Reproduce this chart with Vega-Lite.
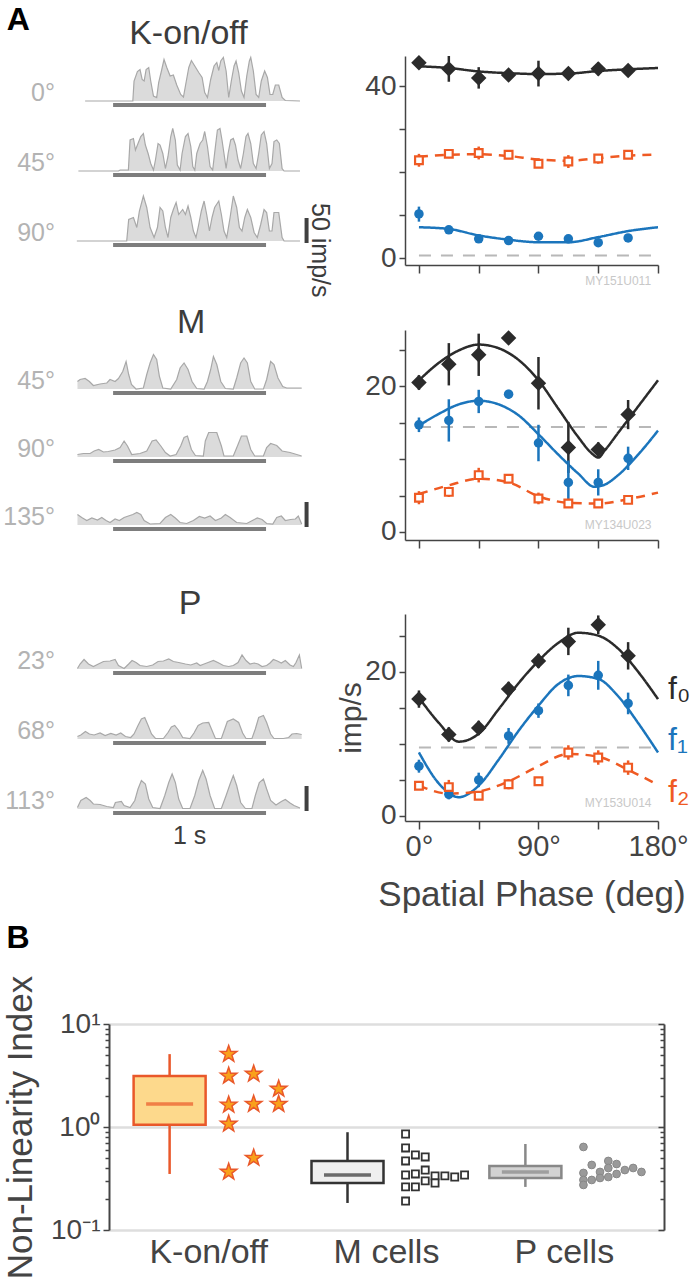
{
"$schema":"https://vega.github.io/schema/vega-lite/v6.json",
"background":"white",
"padding":{"left":-4,"top":4,"right":0,"bottom":0},
"config":{"view":{"stroke":null},"font":"Liberation Sans"},
"title":{"text":"A","anchor":"start","frame":"bounds","fontSize":32,"fontWeight":"bold","color":"#000000","offset":-20,"dx":10},
"datasets":{
"K":[
{"ph":"0°","t":-183,"r":0},{"ph":"0°","t":129,"r":0},{"ph":"0°","t":137,"r":40},{"ph":"0°","t":159,"r":59},{"ph":"0°","t":176,"r":63},{"ph":"0°","t":190,"r":43},{"ph":"0°","t":203,"r":40},{"ph":"0°","t":216,"r":63},{"ph":"0°","t":233,"r":67},{"ph":"0°","t":246,"r":40},{"ph":"0°","t":264,"r":10},{"ph":"0°","t":285,"r":7},{"ph":"0°","t":298,"r":37},{"ph":"0°","t":316,"r":60},{"ph":"0°","t":333,"r":83},{"ph":"0°","t":351,"r":67},{"ph":"0°","t":373,"r":50},{"ph":"0°","t":394,"r":52},{"ph":"0°","t":416,"r":32},{"ph":"0°","t":442,"r":13},{"ph":"0°","t":460,"r":8},{"ph":"0°","t":477,"r":37},{"ph":"0°","t":495,"r":67},{"ph":"0°","t":512,"r":81},{"ph":"0°","t":534,"r":70},{"ph":"0°","t":560,"r":57},{"ph":"0°","t":582,"r":47},{"ph":"0°","t":599,"r":17},{"ph":"0°","t":617,"r":7},{"ph":"0°","t":638,"r":43},{"ph":"0°","t":660,"r":70},{"ph":"0°","t":678,"r":77},{"ph":"0°","t":691,"r":61},{"ph":"0°","t":704,"r":80},{"ph":"0°","t":721,"r":87},{"ph":"0°","t":739,"r":60},{"ph":"0°","t":756,"r":7},{"ph":"0°","t":773,"r":40},{"ph":"0°","t":791,"r":70},{"ph":"0°","t":804,"r":80},{"ph":"0°","t":821,"r":57},{"ph":"0°","t":839,"r":20},{"ph":"0°","t":856,"r":7},{"ph":"0°","t":874,"r":50},{"ph":"0°","t":891,"r":80},{"ph":"0°","t":900,"r":87},{"ph":"0°","t":917,"r":60},{"ph":"0°","t":935,"r":13},{"ph":"0°","t":952,"r":7},{"ph":"0°","t":969,"r":40},{"ph":"0°","t":991,"r":60},{"ph":"0°","t":1009,"r":47},{"ph":"0°","t":1026,"r":13},{"ph":"0°","t":1044,"r":13},{"ph":"0°","t":1061,"r":32},{"ph":"0°","t":1083,"r":32},{"ph":"0°","t":1105,"r":7},{"ph":"0°","t":1126,"r":1},{"ph":"0°","t":1222,"r":0},
{"ph":"45°","t":-227,"r":0},{"ph":"45°","t":35,"r":0},{"ph":"45°","t":46,"r":2},{"ph":"45°","t":100,"r":2},{"ph":"45°","t":111,"r":62},{"ph":"45°","t":133,"r":65},{"ph":"45°","t":146,"r":42},{"ph":"45°","t":163,"r":55},{"ph":"45°","t":181,"r":69},{"ph":"45°","t":198,"r":75},{"ph":"45°","t":211,"r":52},{"ph":"45°","t":229,"r":35},{"ph":"45°","t":246,"r":15},{"ph":"45°","t":264,"r":2},{"ph":"45°","t":277,"r":22},{"ph":"45°","t":294,"r":55},{"ph":"45°","t":307,"r":52},{"ph":"45°","t":325,"r":35},{"ph":"45°","t":342,"r":5},{"ph":"45°","t":359,"r":29},{"ph":"45°","t":377,"r":69},{"ph":"45°","t":390,"r":85},{"ph":"45°","t":407,"r":62},{"ph":"45°","t":420,"r":12},{"ph":"45°","t":438,"r":2},{"ph":"45°","t":451,"r":35},{"ph":"45°","t":473,"r":69},{"ph":"45°","t":490,"r":75},{"ph":"45°","t":508,"r":49},{"ph":"45°","t":521,"r":9},{"ph":"45°","t":534,"r":2},{"ph":"45°","t":547,"r":35},{"ph":"45°","t":569,"r":55},{"ph":"45°","t":586,"r":62},{"ph":"45°","t":599,"r":79},{"ph":"45°","t":617,"r":49},{"ph":"45°","t":634,"r":9},{"ph":"45°","t":651,"r":2},{"ph":"45°","t":669,"r":49},{"ph":"45°","t":682,"r":82},{"ph":"45°","t":699,"r":85},{"ph":"45°","t":712,"r":62},{"ph":"45°","t":725,"r":35},{"ph":"45°","t":739,"r":5},{"ph":"45°","t":752,"r":35},{"ph":"45°","t":769,"r":62},{"ph":"45°","t":786,"r":65},{"ph":"45°","t":800,"r":52},{"ph":"45°","t":817,"r":22},{"ph":"45°","t":834,"r":5},{"ph":"45°","t":852,"r":35},{"ph":"45°","t":869,"r":69},{"ph":"45°","t":882,"r":75},{"ph":"45°","t":900,"r":55},{"ph":"45°","t":917,"r":15},{"ph":"45°","t":935,"r":5},{"ph":"45°","t":952,"r":35},{"ph":"45°","t":969,"r":72},{"ph":"45°","t":987,"r":79},{"ph":"45°","t":1004,"r":55},{"ph":"45°","t":1022,"r":5},{"ph":"45°","t":1039,"r":15},{"ph":"45°","t":1052,"r":59},{"ph":"45°","t":1070,"r":62},{"ph":"45°","t":1087,"r":55},{"ph":"45°","t":1105,"r":5},{"ph":"45°","t":1118,"r":0},{"ph":"45°","t":1222,"r":0},
{"ph":"90°","t":-237,"r":0},{"ph":"90°","t":89,"r":0},{"ph":"90°","t":102,"r":43},{"ph":"90°","t":133,"r":47},{"ph":"90°","t":155,"r":27},{"ph":"90°","t":172,"r":60},{"ph":"90°","t":198,"r":90},{"ph":"90°","t":220,"r":67},{"ph":"90°","t":242,"r":27},{"ph":"90°","t":268,"r":7},{"ph":"90°","t":290,"r":27},{"ph":"90°","t":307,"r":67},{"ph":"90°","t":325,"r":60},{"ph":"90°","t":342,"r":27},{"ph":"90°","t":359,"r":7},{"ph":"90°","t":377,"r":47},{"ph":"90°","t":394,"r":63},{"ph":"90°","t":412,"r":77},{"ph":"90°","t":429,"r":53},{"ph":"90°","t":455,"r":63},{"ph":"90°","t":473,"r":53},{"ph":"90°","t":490,"r":70},{"ph":"90°","t":508,"r":47},{"ph":"90°","t":525,"r":20},{"ph":"90°","t":542,"r":7},{"ph":"90°","t":560,"r":33},{"ph":"90°","t":577,"r":60},{"ph":"90°","t":595,"r":80},{"ph":"90°","t":612,"r":53},{"ph":"90°","t":630,"r":20},{"ph":"90°","t":647,"r":47},{"ph":"90°","t":664,"r":67},{"ph":"90°","t":691,"r":80},{"ph":"90°","t":708,"r":53},{"ph":"90°","t":725,"r":20},{"ph":"90°","t":743,"r":7},{"ph":"90°","t":765,"r":47},{"ph":"90°","t":786,"r":90},{"ph":"90°","t":808,"r":67},{"ph":"90°","t":826,"r":27},{"ph":"90°","t":843,"r":20},{"ph":"90°","t":861,"r":47},{"ph":"90°","t":878,"r":63},{"ph":"90°","t":900,"r":47},{"ph":"90°","t":922,"r":17},{"ph":"90°","t":943,"r":7},{"ph":"90°","t":965,"r":33},{"ph":"90°","t":987,"r":63},{"ph":"90°","t":1004,"r":57},{"ph":"90°","t":1022,"r":20},{"ph":"90°","t":1039,"r":20},{"ph":"90°","t":1052,"r":57},{"ph":"90°","t":1083,"r":57},{"ph":"90°","t":1105,"r":7},{"ph":"90°","t":1118,"r":0},{"ph":"90°","t":1222,"r":0},
{"ph":"0°","kind":"stim","t0":0,"t1":1000},{"ph":"45°","kind":"stim","t0":0,"t1":1000},{"ph":"90°","kind":"stim","t0":0,"t1":1000},
{"ph":"90°","kind":"scale","lo":-4,"hi":46},{"ph":"90°","kind":"label","txt":"50 imp/s"}
],
"M":[
{"ph":"45°","t":-233,"r":15},{"ph":"45°","t":-216,"r":19},{"ph":"45°","t":-183,"r":21},{"ph":"45°","t":-155,"r":15},{"ph":"45°","t":-129,"r":7},{"ph":"45°","t":-85,"r":10},{"ph":"45°","t":-41,"r":12},{"ph":"45°","t":-20,"r":19},{"ph":"45°","t":13,"r":15},{"ph":"45°","t":35,"r":21},{"ph":"45°","t":63,"r":35},{"ph":"45°","t":85,"r":55},{"ph":"45°","t":102,"r":29},{"ph":"45°","t":120,"r":9},{"ph":"45°","t":150,"r":0},{"ph":"45°","t":198,"r":2},{"ph":"45°","t":220,"r":29},{"ph":"45°","t":242,"r":52},{"ph":"45°","t":264,"r":69},{"ph":"45°","t":285,"r":59},{"ph":"45°","t":303,"r":25},{"ph":"45°","t":325,"r":2},{"ph":"45°","t":377,"r":0},{"ph":"45°","t":416,"r":19},{"ph":"45°","t":438,"r":42},{"ph":"45°","t":464,"r":52},{"ph":"45°","t":490,"r":39},{"ph":"45°","t":516,"r":15},{"ph":"45°","t":547,"r":1},{"ph":"45°","t":595,"r":0},{"ph":"45°","t":617,"r":15},{"ph":"45°","t":638,"r":39},{"ph":"45°","t":656,"r":65},{"ph":"45°","t":678,"r":49},{"ph":"45°","t":704,"r":15},{"ph":"45°","t":734,"r":1},{"ph":"45°","t":786,"r":0},{"ph":"45°","t":808,"r":22},{"ph":"45°","t":834,"r":52},{"ph":"45°","t":856,"r":62},{"ph":"45°","t":878,"r":52},{"ph":"45°","t":900,"r":15},{"ph":"45°","t":926,"r":0},{"ph":"45°","t":983,"r":0},{"ph":"45°","t":1004,"r":19},{"ph":"45°","t":1030,"r":55},{"ph":"45°","t":1052,"r":49},{"ph":"45°","t":1078,"r":22},{"ph":"45°","t":1109,"r":5},{"ph":"45°","t":1135,"r":2},{"ph":"45°","t":1233,"r":2},
{"ph":"90°","t":-233,"r":5},{"ph":"90°","t":-194,"r":7},{"ph":"90°","t":-150,"r":7},{"ph":"90°","t":-124,"r":12},{"ph":"90°","t":-94,"r":15},{"ph":"90°","t":-63,"r":10},{"ph":"90°","t":-31,"r":11},{"ph":"90°","t":13,"r":14},{"ph":"90°","t":46,"r":19},{"ph":"90°","t":72,"r":32},{"ph":"90°","t":94,"r":22},{"ph":"90°","t":122,"r":5},{"ph":"90°","t":176,"r":7},{"ph":"90°","t":220,"r":12},{"ph":"90°","t":255,"r":32},{"ph":"90°","t":281,"r":34},{"ph":"90°","t":312,"r":22},{"ph":"90°","t":342,"r":9},{"ph":"90°","t":373,"r":2},{"ph":"90°","t":412,"r":5},{"ph":"90°","t":442,"r":22},{"ph":"90°","t":464,"r":39},{"ph":"90°","t":486,"r":42},{"ph":"90°","t":512,"r":15},{"ph":"90°","t":538,"r":3},{"ph":"90°","t":590,"r":2},{"ph":"90°","t":603,"r":32},{"ph":"90°","t":625,"r":49},{"ph":"90°","t":678,"r":49},{"ph":"90°","t":708,"r":22},{"ph":"90°","t":725,"r":2},{"ph":"90°","t":786,"r":2},{"ph":"90°","t":813,"r":22},{"ph":"90°","t":839,"r":42},{"ph":"90°","t":874,"r":42},{"ph":"90°","t":900,"r":15},{"ph":"90°","t":926,"r":2},{"ph":"90°","t":983,"r":2},{"ph":"90°","t":1004,"r":19},{"ph":"90°","t":1030,"r":27},{"ph":"90°","t":1070,"r":23},{"ph":"90°","t":1105,"r":12},{"ph":"90°","t":1157,"r":9},{"ph":"90°","t":1233,"r":2},
{"ph":"135°","t":-233,"r":21},{"ph":"135°","t":-205,"r":15},{"ph":"135°","t":-172,"r":9},{"ph":"135°","t":-139,"r":14},{"ph":"135°","t":-102,"r":10},{"ph":"135°","t":-74,"r":15},{"ph":"135°","t":-46,"r":9},{"ph":"135°","t":-20,"r":5},{"ph":"135°","t":13,"r":12},{"ph":"135°","t":41,"r":9},{"ph":"135°","t":72,"r":15},{"ph":"135°","t":100,"r":18},{"ph":"135°","t":129,"r":21},{"ph":"135°","t":155,"r":25},{"ph":"135°","t":181,"r":21},{"ph":"135°","t":203,"r":9},{"ph":"135°","t":242,"r":2},{"ph":"135°","t":307,"r":3},{"ph":"135°","t":342,"r":15},{"ph":"135°","t":377,"r":21},{"ph":"135°","t":407,"r":14},{"ph":"135°","t":438,"r":5},{"ph":"135°","t":481,"r":3},{"ph":"135°","t":525,"r":9},{"ph":"135°","t":564,"r":17},{"ph":"135°","t":599,"r":14},{"ph":"135°","t":634,"r":18},{"ph":"135°","t":669,"r":9},{"ph":"135°","t":708,"r":14},{"ph":"135°","t":734,"r":21},{"ph":"135°","t":765,"r":15},{"ph":"135°","t":808,"r":5},{"ph":"135°","t":874,"r":3},{"ph":"135°","t":917,"r":10},{"ph":"135°","t":943,"r":14},{"ph":"135°","t":974,"r":11},{"ph":"135°","t":1004,"r":3},{"ph":"135°","t":1044,"r":2},{"ph":"135°","t":1070,"r":15},{"ph":"135°","t":1100,"r":18},{"ph":"135°","t":1126,"r":9},{"ph":"135°","t":1161,"r":11},{"ph":"135°","t":1192,"r":12},{"ph":"135°","t":1211,"r":18},{"ph":"135°","t":1233,"r":2},
{"ph":"45°","kind":"stim","t0":0,"t1":1000},{"ph":"90°","kind":"stim","t0":0,"t1":1000},{"ph":"135°","kind":"stim","t0":0,"t1":1000},
{"ph":"135°","kind":"scale","lo":-4,"hi":46}
],
"P":[
{"ph":"23°","t":-233,"r":1},{"ph":"23°","t":-216,"r":10},{"ph":"23°","t":-190,"r":19},{"ph":"23°","t":-161,"r":10},{"ph":"23°","t":-129,"r":5},{"ph":"23°","t":-96,"r":10},{"ph":"23°","t":-63,"r":15},{"ph":"23°","t":-20,"r":16},{"ph":"23°","t":13,"r":19},{"ph":"23°","t":35,"r":7},{"ph":"23°","t":72,"r":1},{"ph":"23°","t":102,"r":10},{"ph":"23°","t":124,"r":17},{"ph":"23°","t":150,"r":13},{"ph":"23°","t":176,"r":7},{"ph":"23°","t":220,"r":5},{"ph":"23°","t":259,"r":8},{"ph":"23°","t":294,"r":15},{"ph":"23°","t":329,"r":16},{"ph":"23°","t":364,"r":20},{"ph":"23°","t":394,"r":15},{"ph":"23°","t":429,"r":13},{"ph":"23°","t":473,"r":10},{"ph":"23°","t":508,"r":8},{"ph":"23°","t":547,"r":12},{"ph":"23°","t":569,"r":7},{"ph":"23°","t":595,"r":10},{"ph":"23°","t":621,"r":13},{"ph":"23°","t":656,"r":17},{"ph":"23°","t":691,"r":12},{"ph":"23°","t":721,"r":7},{"ph":"23°","t":756,"r":5},{"ph":"23°","t":786,"r":7},{"ph":"23°","t":817,"r":13},{"ph":"23°","t":843,"r":28},{"ph":"23°","t":869,"r":17},{"ph":"23°","t":895,"r":10},{"ph":"23°","t":922,"r":12},{"ph":"23°","t":948,"r":10},{"ph":"23°","t":974,"r":5},{"ph":"23°","t":1004,"r":7},{"ph":"23°","t":1026,"r":12},{"ph":"23°","t":1048,"r":19},{"ph":"23°","t":1074,"r":16},{"ph":"23°","t":1100,"r":12},{"ph":"23°","t":1126,"r":17},{"ph":"23°","t":1157,"r":8},{"ph":"23°","t":1179,"r":5},{"ph":"23°","t":1196,"r":13},{"ph":"23°","t":1218,"r":28},{"ph":"23°","t":1233,"r":1},
{"ph":"68°","t":-233,"r":5},{"ph":"68°","t":-211,"r":8},{"ph":"68°","t":-181,"r":15},{"ph":"68°","t":-155,"r":10},{"ph":"68°","t":-124,"r":8},{"ph":"68°","t":-85,"r":12},{"ph":"68°","t":-52,"r":7},{"ph":"68°","t":-15,"r":11},{"ph":"68°","t":20,"r":8},{"ph":"68°","t":50,"r":12},{"ph":"68°","t":81,"r":5},{"ph":"68°","t":115,"r":3},{"ph":"68°","t":137,"r":10},{"ph":"68°","t":163,"r":27},{"ph":"68°","t":185,"r":40},{"ph":"68°","t":207,"r":43},{"ph":"68°","t":229,"r":27},{"ph":"68°","t":251,"r":10},{"ph":"68°","t":277,"r":1},{"ph":"68°","t":329,"r":1},{"ph":"68°","t":359,"r":13},{"ph":"68°","t":381,"r":24},{"ph":"68°","t":403,"r":27},{"ph":"68°","t":429,"r":17},{"ph":"68°","t":455,"r":3},{"ph":"68°","t":503,"r":1},{"ph":"68°","t":529,"r":12},{"ph":"68°","t":556,"r":27},{"ph":"68°","t":586,"r":32},{"ph":"68°","t":625,"r":33},{"ph":"68°","t":643,"r":20},{"ph":"68°","t":669,"r":1},{"ph":"68°","t":708,"r":1},{"ph":"68°","t":730,"r":20},{"ph":"68°","t":747,"r":35},{"ph":"68°","t":786,"r":40},{"ph":"68°","t":821,"r":33},{"ph":"68°","t":847,"r":12},{"ph":"68°","t":869,"r":1},{"ph":"68°","t":908,"r":1},{"ph":"68°","t":930,"r":20},{"ph":"68°","t":952,"r":43},{"ph":"68°","t":983,"r":47},{"ph":"68°","t":1004,"r":33},{"ph":"68°","t":1030,"r":10},{"ph":"68°","t":1052,"r":1},{"ph":"68°","t":1113,"r":1},{"ph":"68°","t":1148,"r":3},{"ph":"68°","t":1170,"r":10},{"ph":"68°","t":1200,"r":11},{"ph":"68°","t":1233,"r":9},
{"ph":"113°","t":-233,"r":3},{"ph":"113°","t":-211,"r":17},{"ph":"113°","t":-176,"r":23},{"ph":"113°","t":-150,"r":17},{"ph":"113°","t":-129,"r":10},{"ph":"113°","t":-85,"r":9},{"ph":"113°","t":-41,"r":5},{"ph":"113°","t":2,"r":3},{"ph":"113°","t":15,"r":13},{"ph":"113°","t":54,"r":15},{"ph":"113°","t":72,"r":7},{"ph":"113°","t":111,"r":3},{"ph":"113°","t":142,"r":17},{"ph":"113°","t":163,"r":40},{"ph":"113°","t":185,"r":57},{"ph":"113°","t":211,"r":50},{"ph":"113°","t":233,"r":20},{"ph":"113°","t":259,"r":3},{"ph":"113°","t":307,"r":1},{"ph":"113°","t":338,"r":27},{"ph":"113°","t":364,"r":53},{"ph":"113°","t":386,"r":70},{"ph":"113°","t":407,"r":53},{"ph":"113°","t":429,"r":20},{"ph":"113°","t":455,"r":1},{"ph":"113°","t":503,"r":1},{"ph":"113°","t":534,"r":27},{"ph":"113°","t":560,"r":57},{"ph":"113°","t":586,"r":77},{"ph":"113°","t":608,"r":60},{"ph":"113°","t":634,"r":27},{"ph":"113°","t":664,"r":1},{"ph":"113°","t":708,"r":1},{"ph":"113°","t":739,"r":27},{"ph":"113°","t":765,"r":50},{"ph":"113°","t":786,"r":67},{"ph":"113°","t":808,"r":47},{"ph":"113°","t":834,"r":13},{"ph":"113°","t":865,"r":1},{"ph":"113°","t":908,"r":1},{"ph":"113°","t":930,"r":27},{"ph":"113°","t":956,"r":53},{"ph":"113°","t":983,"r":60},{"ph":"113°","t":1004,"r":40},{"ph":"113°","t":1030,"r":17},{"ph":"113°","t":1065,"r":8},{"ph":"113°","t":1100,"r":15},{"ph":"113°","t":1126,"r":19},{"ph":"113°","t":1157,"r":12},{"ph":"113°","t":1183,"r":7},{"ph":"113°","t":1222,"r":2},
{"ph":"23°","kind":"stim","t0":0,"t1":1000},{"ph":"68°","kind":"stim","t0":0,"t1":1000},{"ph":"113°","kind":"stim","t0":0,"t1":1000},
{"ph":"113°","kind":"scale","lo":-4,"hi":46},{"ph":"113°","kind":"label","txt":"1 s"}
],
"tune":[
{"cell":"K","h":"f0","x":0,"m":45.5,"lo":44.5,"hi":46.5},{"cell":"K","h":"f0","x":22.5,"m":44.1,"lo":41.1,"hi":47.1},{"cell":"K","h":"f0","x":45,"m":42.0,"lo":39.5,"hi":44.5},{"cell":"K","h":"f0","x":67.5,"m":42.7,"lo":41.5,"hi":43.9},{"cell":"K","h":"f0","x":90,"m":43.0,"lo":40.0,"hi":46.0},{"cell":"K","h":"f0","x":112.5,"m":43.0,"lo":41.8,"hi":44.2},{"cell":"K","h":"f0","x":135,"m":44.1,"lo":42.6,"hi":45.6},{"cell":"K","h":"f0","x":157.5,"m":43.7,"lo":42.5,"hi":44.9},
{"cell":"K","h":"f1","x":0,"m":10.3,"lo":8.5,"hi":12.0},{"cell":"K","h":"f1","x":22.5,"m":6.6,"lo":6.0,"hi":7.2},{"cell":"K","h":"f1","x":45,"m":4.5,"lo":4.0,"hi":5.0},{"cell":"K","h":"f1","x":67.5,"m":4.1,"lo":3.6,"hi":4.6},{"cell":"K","h":"f1","x":90,"m":5.1,"lo":4.6,"hi":5.6},{"cell":"K","h":"f1","x":112.5,"m":4.5,"lo":3.5,"hi":5.3},{"cell":"K","h":"f1","x":135,"m":3.6,"lo":3.1,"hi":4.1},{"cell":"K","h":"f1","x":157.5,"m":4.7,"lo":4.2,"hi":5.2},
{"cell":"K","h":"f2","x":0,"m":22.8,"lo":21.3,"hi":24.3},{"cell":"K","h":"f2","x":22.5,"m":24.3,"lo":23.3,"hi":25.3},{"cell":"K","h":"f2","x":45,"m":24.5,"lo":23.0,"hi":26.0},{"cell":"K","h":"f2","x":67.5,"m":24.1,"lo":23.4,"hi":24.8},{"cell":"K","h":"f2","x":90,"m":22.0,"lo":21.0,"hi":23.2},{"cell":"K","h":"f2","x":112.5,"m":22.5,"lo":21.0,"hi":24.0},{"cell":"K","h":"f2","x":135,"m":23.2,"lo":22.0,"hi":24.2},{"cell":"K","h":"f2","x":157.5,"m":24.1,"lo":23.2,"hi":25.0},
{"cell":"M","h":"f0","x":0,"m":20.5,"lo":19.5,"hi":21.5},{"cell":"M","h":"f0","x":22.5,"m":23.0,"lo":20.1,"hi":25.9},{"cell":"M","h":"f0","x":45,"m":24.3,"lo":21.4,"hi":27.2},{"cell":"M","h":"f0","x":67.5,"m":26.6,"lo":25.8,"hi":27.4},{"cell":"M","h":"f0","x":90,"m":20.4,"lo":16.8,"hi":24.0},{"cell":"M","h":"f0","x":112.5,"m":11.6,"lo":8.1,"hi":15.1},{"cell":"M","h":"f0","x":135,"m":11.3,"lo":10.3,"hi":12.3},{"cell":"M","h":"f0","x":157.5,"m":16.1,"lo":14.1,"hi":18.1},
{"cell":"M","h":"f1","x":0,"m":14.7,"lo":13.7,"hi":15.7},{"cell":"M","h":"f1","x":22.5,"m":15.3,"lo":12.4,"hi":18.2},{"cell":"M","h":"f1","x":45,"m":17.9,"lo":16.3,"hi":19.5},{"cell":"M","h":"f1","x":67.5,"m":18.9,"lo":18.3,"hi":19.5},{"cell":"M","h":"f1","x":90,"m":12.2,"lo":9.7,"hi":14.7},{"cell":"M","h":"f1","x":112.5,"m":6.8,"lo":3.8,"hi":9.8},{"cell":"M","h":"f1","x":135,"m":6.8,"lo":5.0,"hi":8.6},{"cell":"M","h":"f1","x":157.5,"m":10.1,"lo":8.5,"hi":11.7},
{"cell":"M","h":"f2","x":0,"m":4.7,"lo":3.8,"hi":5.6},{"cell":"M","h":"f2","x":22.5,"m":5.5,"lo":4.8,"hi":6.2},{"cell":"M","h":"f2","x":45,"m":7.8,"lo":6.8,"hi":8.8},{"cell":"M","h":"f2","x":67.5,"m":7.3,"lo":6.8,"hi":7.8},{"cell":"M","h":"f2","x":90,"m":4.6,"lo":3.8,"hi":5.4},{"cell":"M","h":"f2","x":112.5,"m":3.9,"lo":3.3,"hi":4.5},{"cell":"M","h":"f2","x":135,"m":3.9,"lo":3.5,"hi":4.3},{"cell":"M","h":"f2","x":157.5,"m":4.4,"lo":4.0,"hi":4.8},
{"cell":"P","h":"f0","x":0,"m":16.2,"lo":15.0,"hi":17.4},{"cell":"P","h":"f0","x":22.5,"m":11.3,"lo":10.3,"hi":12.3},{"cell":"P","h":"f0","x":45,"m":12.2,"lo":11.2,"hi":13.2},{"cell":"P","h":"f0","x":67.5,"m":17.6,"lo":16.6,"hi":18.6},{"cell":"P","h":"f0","x":90,"m":21.5,"lo":20.5,"hi":22.5},{"cell":"P","h":"f0","x":112.5,"m":24.2,"lo":22.3,"hi":26.1},{"cell":"P","h":"f0","x":135,"m":26.5,"lo":25.2,"hi":27.8},{"cell":"P","h":"f0","x":157.5,"m":22.2,"lo":20.3,"hi":24.1},
{"cell":"P","h":"f1","x":0,"m":6.9,"lo":6.0,"hi":7.8},{"cell":"P","h":"f1","x":22.5,"m":3.0,"lo":2.3,"hi":3.7},{"cell":"P","h":"f1","x":45,"m":5.0,"lo":4.0,"hi":6.0},{"cell":"P","h":"f1","x":67.5,"m":11.1,"lo":10.0,"hi":12.2},{"cell":"P","h":"f1","x":90,"m":14.6,"lo":13.6,"hi":15.6},{"cell":"P","h":"f1","x":112.5,"m":18.1,"lo":16.6,"hi":19.6},{"cell":"P","h":"f1","x":135,"m":19.5,"lo":17.5,"hi":21.5},{"cell":"P","h":"f1","x":157.5,"m":15.6,"lo":14.1,"hi":17.1},
{"cell":"P","h":"f2","x":0,"m":4.2,"lo":3.7,"hi":4.7},{"cell":"P","h":"f2","x":22.5,"m":4.0,"lo":3.0,"hi":5.0},{"cell":"P","h":"f2","x":45,"m":2.8,"lo":2.3,"hi":3.3},{"cell":"P","h":"f2","x":67.5,"m":4.4,"lo":3.7,"hi":5.1},{"cell":"P","h":"f2","x":90,"m":4.8,"lo":4.3,"hi":5.3},{"cell":"P","h":"f2","x":112.5,"m":8.8,"lo":7.8,"hi":9.8},{"cell":"P","h":"f2","x":135,"m":8.1,"lo":7.1,"hi":9.1},{"cell":"P","h":"f2","x":157.5,"m":6.7,"lo":5.7,"hi":7.7}
],
"fit":[
{"cell":"K","h":"f0","x":0,"y":44.7},{"cell":"K","h":"f0","x":22.5,"y":44.3},{"cell":"K","h":"f0","x":45,"y":43.5},{"cell":"K","h":"f0","x":67.5,"y":43.1},{"cell":"K","h":"f0","x":90,"y":42.9},{"cell":"K","h":"f0","x":112.5,"y":43.0},{"cell":"K","h":"f0","x":135,"y":43.6},{"cell":"K","h":"f0","x":157.5,"y":44.0},{"cell":"K","h":"f0","x":180,"y":44.3},
{"cell":"K","h":"f1","x":0,"y":7.2},{"cell":"K","h":"f1","x":22.5,"y":6.8},{"cell":"K","h":"f1","x":45,"y":5.3},{"cell":"K","h":"f1","x":67.5,"y":4.3},{"cell":"K","h":"f1","x":90,"y":3.7},{"cell":"K","h":"f1","x":112.5,"y":3.7},{"cell":"K","h":"f1","x":135,"y":4.9},{"cell":"K","h":"f1","x":157.5,"y":6.3},{"cell":"K","h":"f1","x":180,"y":7.2},
{"cell":"K","h":"f2","x":0,"y":23.6},{"cell":"K","h":"f2","x":22.5,"y":24.1},{"cell":"K","h":"f2","x":45,"y":24.2},{"cell":"K","h":"f2","x":67.5,"y":23.8},{"cell":"K","h":"f2","x":90,"y":23.0},{"cell":"K","h":"f2","x":112.5,"y":22.7},{"cell":"K","h":"f2","x":135,"y":23.3},{"cell":"K","h":"f2","x":157.5,"y":23.9},{"cell":"K","h":"f2","x":180,"y":24.1},
{"cell":"M","h":"f0","x":0,"y":20.8},{"cell":"M","h":"f0","x":15,"y":23.2},{"cell":"M","h":"f0","x":30,"y":24.9},{"cell":"M","h":"f0","x":45,"y":25.7},{"cell":"M","h":"f0","x":60,"y":25.2},{"cell":"M","h":"f0","x":75,"y":23.6},{"cell":"M","h":"f0","x":90,"y":20.8},{"cell":"M","h":"f0","x":105,"y":16.9},{"cell":"M","h":"f0","x":120,"y":13.0},{"cell":"M","h":"f0","x":130,"y":10.8},{"cell":"M","h":"f0","x":135,"y":10.2},{"cell":"M","h":"f0","x":140,"y":11.2},{"cell":"M","h":"f0","x":150,"y":13.6},{"cell":"M","h":"f0","x":165,"y":17.2},{"cell":"M","h":"f0","x":180,"y":20.8},
{"cell":"M","h":"f1","x":0,"y":14.6},{"cell":"M","h":"f1","x":15,"y":16.2},{"cell":"M","h":"f1","x":30,"y":17.5},{"cell":"M","h":"f1","x":45,"y":18.0},{"cell":"M","h":"f1","x":60,"y":17.5},{"cell":"M","h":"f1","x":75,"y":16.0},{"cell":"M","h":"f1","x":90,"y":13.4},{"cell":"M","h":"f1","x":105,"y":10.6},{"cell":"M","h":"f1","x":120,"y":8.0},{"cell":"M","h":"f1","x":132,"y":6.2},{"cell":"M","h":"f1","x":140,"y":6.5},{"cell":"M","h":"f1","x":150,"y":7.8},{"cell":"M","h":"f1","x":165,"y":10.6},{"cell":"M","h":"f1","x":180,"y":13.9},
{"cell":"M","h":"f2","x":0,"y":5.2},{"cell":"M","h":"f2","x":22.5,"y":6.4},{"cell":"M","h":"f2","x":45,"y":7.3},{"cell":"M","h":"f2","x":67.5,"y":6.8},{"cell":"M","h":"f2","x":90,"y":4.9},{"cell":"M","h":"f2","x":112.5,"y":4.0},{"cell":"M","h":"f2","x":135,"y":3.9},{"cell":"M","h":"f2","x":157.5,"y":4.5},{"cell":"M","h":"f2","x":180,"y":5.4},
{"cell":"P","h":"f0","x":0,"y":16.4},{"cell":"P","h":"f0","x":15,"y":12.9},{"cell":"P","h":"f0","x":30,"y":10.3},{"cell":"P","h":"f0","x":45,"y":11.4},{"cell":"P","h":"f0","x":60,"y":14.8},{"cell":"P","h":"f0","x":75,"y":18.4},{"cell":"P","h":"f0","x":90,"y":21.5},{"cell":"P","h":"f0","x":105,"y":24.0},{"cell":"P","h":"f0","x":120,"y":25.4},{"cell":"P","h":"f0","x":135,"y":25.0},{"cell":"P","h":"f0","x":150,"y":23.2},{"cell":"P","h":"f0","x":165,"y":20.0},{"cell":"P","h":"f0","x":180,"y":16.2},
{"cell":"P","h":"f1","x":0,"y":8.8},{"cell":"P","h":"f1","x":15,"y":4.5},{"cell":"P","h":"f1","x":30,"y":2.6},{"cell":"P","h":"f1","x":45,"y":4.2},{"cell":"P","h":"f1","x":60,"y":7.8},{"cell":"P","h":"f1","x":75,"y":11.8},{"cell":"P","h":"f1","x":90,"y":15.3},{"cell":"P","h":"f1","x":105,"y":18.3},{"cell":"P","h":"f1","x":120,"y":19.4},{"cell":"P","h":"f1","x":135,"y":19.0},{"cell":"P","h":"f1","x":150,"y":16.6},{"cell":"P","h":"f1","x":165,"y":12.9},{"cell":"P","h":"f1","x":180,"y":8.8},
{"cell":"P","h":"f2","x":0,"y":4.2},{"cell":"P","h":"f2","x":22.5,"y":3.1},{"cell":"P","h":"f2","x":45,"y":3.4},{"cell":"P","h":"f2","x":67.5,"y":4.8},{"cell":"P","h":"f2","x":90,"y":6.9},{"cell":"P","h":"f2","x":112.5,"y":8.6},{"cell":"P","h":"f2","x":135,"y":8.2},{"cell":"P","h":"f2","x":157.5,"y":6.4},{"cell":"P","h":"f2","x":180,"y":4.3}
],
"spont":[{"cell":"K","v":0.6,"id":"MY151U011"},{"cell":"M","v":14.4,"id":"MY134U023"},{"cell":"P","v":9.5,"id":"MY153U014"}],
"box":[{"grp":"K-on/off","lo":0.35,"q1":1.05,"med":1.67,"q3":3.13,"hi":5.1},{"grp":"M cells","lo":0.183,"q1":0.286,"med":0.342,"q3":0.468,"hi":0.89},{"grp":"P cells","lo":0.262,"q1":0.32,"med":0.366,"q3":0.418,"hi":0.684}],
"pts":[
{"grp":"K-on/off","slot":0,"v":5.1},{"grp":"K-on/off","slot":0,"v":3.13},{"grp":"K-on/off","slot":0,"v":1.64},{"grp":"K-on/off","slot":0,"v":1.07},{"grp":"K-on/off","slot":0,"v":0.366},{"grp":"K-on/off","slot":1,"v":3.27},{"grp":"K-on/off","slot":1,"v":1.67},{"grp":"K-on/off","slot":1,"v":0.5},{"grp":"K-on/off","slot":2,"v":2.34},{"grp":"K-on/off","slot":2,"v":1.67},
{"grp":"M cells","slot":0,"v":0.855},{"grp":"M cells","slot":0,"v":0.626},{"grp":"M cells","slot":0,"v":0.468},{"grp":"M cells","slot":0,"v":0.342},{"grp":"M cells","slot":0,"v":0.262},{"grp":"M cells","slot":0,"v":0.191},{"grp":"M cells","slot":1,"v":0.535},{"grp":"M cells","slot":1,"v":0.35},{"grp":"M cells","slot":1,"v":0.262},{"grp":"M cells","slot":2,"v":0.512},{"grp":"M cells","slot":2,"v":0.382},{"grp":"M cells","slot":2,"v":0.3},{"grp":"M cells","slot":3,"v":0.335},{"grp":"M cells","slot":3,"v":0.286},{"grp":"M cells","slot":4,"v":0.335},{"grp":"M cells","slot":5,"v":0.327},{"grp":"M cells","slot":6,"v":0.342},
{"grp":"P cells","slot":0,"v":0.64},{"grp":"P cells","slot":0,"v":0.358},{"grp":"P cells","slot":0,"v":0.306},{"grp":"P cells","slot":0,"v":0.274},{"grp":"P cells","slot":1,"v":0.428},{"grp":"P cells","slot":1,"v":0.306},{"grp":"P cells","slot":2,"v":0.366},{"grp":"P cells","slot":2,"v":0.32},{"grp":"P cells","slot":3,"v":0.468},{"grp":"P cells","slot":3,"v":0.4},{"grp":"P cells","slot":3,"v":0.327},{"grp":"P cells","slot":4,"v":0.437},{"grp":"P cells","slot":4,"v":0.35},{"grp":"P cells","slot":5,"v":0.382},{"grp":"P cells","slot":6,"v":0.4},{"grp":"P cells","slot":7,"v":0.366}
]
},
"resolve":{"scale":{"color":"independent","fill":"independent","stroke":"independent","strokeDash":"independent"}},
"concat":[
{"width":1,"height":1,"data":{"values":[{"a":0}]},"mark":{"type":"point","opacity":0},"encoding":{}},
{"hconcat":[
 {"vconcat":[
  {"data":{"name":"K"},
   "title":{"text":"K-on/off","fontSize":34,"fontWeight":"normal","color":"#3c3c3c","offset":4,"anchor":"middle","dx":14},
   "facet":{"row":{"field":"ph","type":"nominal","sort":["0°","45°","90°"],"header":{"title":null,"labels":false}}},
   "bounds":"flush",
   "spacing":{"row":20},
   "spec":{"width":234,"height":50,"layer":[
    {"transform":[{"filter":"isValid(datum.r)"}],"mark":{"type":"area","color":"#cccccc","interpolate":"linear","line":{"color":"#a8a8a8","strokeWidth":1.2}},
     "encoding":{"x":{"field":"t","type":"quantitative","scale":{"domain":[-236,1294],"nice":false,"zero":false},"axis":null},"y":{"field":"r","type":"quantitative","scale":{"domain":[-10,90],"nice":false,"zero":false},"axis":null},"y2":{"datum":0}}},
    {"transform":[{"filter":{"field":"kind","equal":"stim"}}],"mark":{"type":"rule","color":"#7d7d7d","strokeWidth":4},"encoding":{"x":{"field":"t0","type":"quantitative"},"x2":{"field":"t1"},"y":{"datum":-8}}},
    {"transform":[{"filter":{"field":"kind","equal":"stim"}}],"mark":{"type":"text","align":"right","baseline":"middle","dx":-22,"fontSize":25,"color":"#b3b3b3"},"encoding":{"x":{"datum":-236},"y":{"datum":16},"text":{"field":"ph"}}},
    {"transform":[{"filter":{"field":"kind","equal":"scale"}}],"mark":{"type":"rule","color":"#404040","strokeWidth":4},"encoding":{"x":{"datum":1265},"y":{"field":"lo","type":"quantitative"},"y2":{"field":"hi"}}},
    {"transform":[{"filter":{"field":"kind","equal":"label"}}],"mark":{"type":"text","angle":90,"align":"left","baseline":"middle","dy":-13,"fontSize":25,"color":"#3c3c3c"},"encoding":{"x":{"datum":1265},"y":{"datum":76},"text":{"field":"txt"}}}
   ]}},
  {"vconcat":[
   {"data":{"name":"M"},
    "title":{"text":"M","fontSize":34,"fontWeight":"normal","color":"#3c3c3c","offset":4,"anchor":"middle","dx":34},
    "facet":{"row":{"field":"ph","type":"nominal","sort":["45°","90°","135°"],"header":{"title":null,"labels":false}}},
    "bounds":"flush",
    "spacing":{"row":18},
    "spec":{"width":234,"height":50,"layer":[
     {"transform":[{"filter":"isValid(datum.r)"}],"mark":{"type":"area","color":"#cccccc","interpolate":"linear","line":{"color":"#a8a8a8","strokeWidth":1.2}},
      "encoding":{"x":{"field":"t","type":"quantitative","scale":{"domain":[-236,1294],"nice":false,"zero":false},"axis":null},"y":{"field":"r","type":"quantitative","scale":{"domain":[-10,90],"nice":false,"zero":false},"axis":null},"y2":{"datum":0}}},
     {"transform":[{"filter":{"field":"kind","equal":"stim"}}],"mark":{"type":"rule","color":"#7d7d7d","strokeWidth":4},"encoding":{"x":{"field":"t0","type":"quantitative"},"x2":{"field":"t1"},"y":{"datum":-8}}},
     {"transform":[{"filter":{"field":"kind","equal":"stim"}}],"mark":{"type":"text","align":"right","baseline":"middle","dx":-22,"fontSize":25,"color":"#b3b3b3"},"encoding":{"x":{"datum":-236},"y":{"datum":16},"text":{"field":"ph"}}},
     {"transform":[{"filter":{"field":"kind","equal":"scale"}}],"mark":{"type":"rule","color":"#404040","strokeWidth":4},"encoding":{"x":{"datum":1265},"y":{"field":"lo","type":"quantitative"},"y2":{"field":"hi"}}}
    ]}},
   {"data":{"name":"P"},
    "title":{"text":"P","fontSize":34,"fontWeight":"normal","color":"#3c3c3c","offset":3,"anchor":"middle","dx":32},
    "facet":{"row":{"field":"ph","type":"nominal","sort":["23°","68°","113°"],"header":{"title":null,"labels":false}}},
    "bounds":"flush",
    "spacing":{"row":20},
    "spec":{"width":234,"height":50,"layer":[
     {"transform":[{"filter":"isValid(datum.r)"}],"mark":{"type":"area","color":"#cccccc","interpolate":"linear","line":{"color":"#a8a8a8","strokeWidth":1.2}},
      "encoding":{"x":{"field":"t","type":"quantitative","scale":{"domain":[-236,1294],"nice":false,"zero":false},"axis":null},"y":{"field":"r","type":"quantitative","scale":{"domain":[-10,90],"nice":false,"zero":false},"axis":null},"y2":{"datum":0}}},
     {"transform":[{"filter":{"field":"kind","equal":"stim"}}],"mark":{"type":"rule","color":"#7d7d7d","strokeWidth":4},"encoding":{"x":{"field":"t0","type":"quantitative"},"x2":{"field":"t1"},"y":{"datum":-8}}},
     {"transform":[{"filter":{"field":"kind","equal":"stim"}}],"mark":{"type":"text","align":"right","baseline":"middle","dx":-22,"fontSize":25,"color":"#b3b3b3"},"encoding":{"x":{"datum":-236},"y":{"datum":16},"text":{"field":"ph"}}},
     {"transform":[{"filter":{"field":"kind","equal":"scale"}}],"mark":{"type":"rule","color":"#404040","strokeWidth":4},"encoding":{"x":{"datum":1265},"y":{"field":"lo","type":"quantitative"},"y2":{"field":"hi"}}},
     {"transform":[{"filter":{"field":"kind","equal":"label"}}],"mark":{"type":"text","align":"center","baseline":"middle","dy":23,"fontSize":25,"color":"#3c3c3c"},"encoding":{"x":{"datum":500},"y":{"datum":-8},"text":{"field":"txt"}}}
    ]}}
  ],"spacing":56}
 ],"spacing":8},
 {"vconcat":[
  {"width":253,"height":209,
   "layer":[
    {"data":{"name":"spont"},"transform":[{"filter":{"field":"cell","equal":"K"}}],"mark":{"type":"rule","color":"#b8b8b8","strokeWidth":2,"strokeDash":[12,10]},"encoding":{"x":{"datum":0},"x2":{"datum":178},"y":{"field":"v","type":"quantitative"}}},
    {"data":{"name":"fit"},"transform":[{"filter":{"field":"cell","equal":"K"}}],"mark":{"type":"line","strokeWidth":2.5,"interpolate":"monotone"},
     "encoding":{"x":{"field":"x","type":"quantitative","scale":{"domain":[-10.5,180],"nice":false,"zero":false},"axis":{"values":[0,45,90,135,180],"labels":false,"tickSize":8,"tickWidth":1.5,"tickColor":"#444444","domainColor":"#444444","domainWidth":1.5,"grid":false,"title":null}},
      "y":{"field":"y","type":"quantitative","scale":{"domain":[-1.6,47.1],"nice":false,"zero":false},"axis":{"values":[0,5,10,15,20,25,30,35,40,45],"labelExpr":"datum.value==0||datum.value==40?datum.label:''","labelOverlap":false,"tickSize":6,"tickWidth":1.5,"tickColor":"#444444","domainColor":"#444444","domainWidth":1.5,"labelFontSize":28,"labelColor":"#444444","labelPadding":3,"grid":false,"title":" ","titleFontSize":30,"titlePadding":-2}},
      "color":{"field":"h","type":"nominal","scale":{"domain":["f0","f1","f2"],"range":["#2b2b2b","#1b75bc","#ef5a23"]},"legend":null},
      "strokeDash":{"field":"h","type":"nominal","scale":{"domain":["f0","f1","f2"],"range":[[1,0],[1,0],[9,7]]},"legend":null}}},
    {"data":{"name":"tune"},"transform":[{"filter":{"field":"cell","equal":"K"}}],"mark":{"type":"rule","strokeWidth":2.5},"encoding":{"x":{"field":"x","type":"quantitative"},"y":{"field":"lo","type":"quantitative"},"y2":{"field":"hi"},"color":{"field":"h","type":"nominal","legend":null}}},
    {"data":{"name":"tune"},"transform":[{"filter":"datum.cell=='K'&&datum.h=='f0'"}],"mark":{"type":"point","shape":"diamond","filled":true,"size":240,"color":"#2b2b2b","opacity":1},"encoding":{"x":{"field":"x","type":"quantitative"},"y":{"field":"m","type":"quantitative"}}},
    {"data":{"name":"tune"},"transform":[{"filter":"datum.cell=='K'&&datum.h=='f1'"}],"mark":{"type":"point","shape":"circle","filled":true,"size":90,"color":"#1b75bc","opacity":1},"encoding":{"x":{"field":"x","type":"quantitative"},"y":{"field":"m","type":"quantitative"}}},
    {"data":{"name":"tune"},"transform":[{"filter":"datum.cell=='K'&&datum.h=='f2'"}],"mark":{"type":"point","shape":"square","filled":true,"fill":"#ffffff","stroke":"#ef5a23","strokeWidth":2.2,"size":60,"opacity":1},"encoding":{"x":{"field":"x","type":"quantitative"},"y":{"field":"m","type":"quantitative"}}},
    {"data":{"name":"spont"},"transform":[{"filter":{"field":"cell","equal":"K"}}],"mark":{"type":"text","fontSize":12,"color":"#c8c8c8","align":"center","baseline":"middle"},"encoding":{"x":{"datum":150},"y":{"datum":-5.4},"text":{"field":"id"}}}
   ]},
  {"vconcat":[
   {"width":253,"height":210,
    "layer":[
     {"data":{"name":"spont"},"transform":[{"filter":{"field":"cell","equal":"M"}}],"mark":{"type":"rule","color":"#b8b8b8","strokeWidth":2,"strokeDash":[12,10]},"encoding":{"x":{"datum":0},"x2":{"datum":178},"y":{"field":"v","type":"quantitative"}}},
     {"data":{"name":"fit"},"transform":[{"filter":{"field":"cell","equal":"M"}}],"mark":{"type":"line","strokeWidth":2.5,"interpolate":"monotone"},
      "encoding":{"x":{"field":"x","type":"quantitative","scale":{"domain":[-10.5,180],"nice":false,"zero":false},"axis":{"values":[0,45,90,135,180],"labels":false,"tickSize":8,"tickWidth":1.5,"tickColor":"#444444","domainColor":"#444444","domainWidth":1.5,"grid":false,"title":null}},
       "y":{"field":"y","type":"quantitative","scale":{"domain":[-1.1,27.7],"nice":false,"zero":false},"axis":{"values":[0,5,10,15,20,25],"labelExpr":"datum.value==0||datum.value==20?datum.label:''","labelOverlap":false,"tickSize":6,"tickWidth":1.5,"tickColor":"#444444","domainColor":"#444444","domainWidth":1.5,"labelFontSize":28,"labelColor":"#444444","labelPadding":3,"grid":false,"title":" ","titleFontSize":30,"titlePadding":-2}},
       "color":{"field":"h","type":"nominal","scale":{"domain":["f0","f1","f2"],"range":["#2b2b2b","#1b75bc","#ef5a23"]},"legend":null},
       "strokeDash":{"field":"h","type":"nominal","scale":{"domain":["f0","f1","f2"],"range":[[1,0],[1,0],[9,7]]},"legend":null}}},
     {"data":{"name":"tune"},"transform":[{"filter":{"field":"cell","equal":"M"}}],"mark":{"type":"rule","strokeWidth":2.5},"encoding":{"x":{"field":"x","type":"quantitative"},"y":{"field":"lo","type":"quantitative"},"y2":{"field":"hi"},"color":{"field":"h","type":"nominal","legend":null}}},
     {"data":{"name":"tune"},"transform":[{"filter":"datum.cell=='M'&&datum.h=='f0'"}],"mark":{"type":"point","shape":"diamond","filled":true,"size":240,"color":"#2b2b2b","opacity":1},"encoding":{"x":{"field":"x","type":"quantitative"},"y":{"field":"m","type":"quantitative"}}},
     {"data":{"name":"tune"},"transform":[{"filter":"datum.cell=='M'&&datum.h=='f1'"}],"mark":{"type":"point","shape":"circle","filled":true,"size":90,"color":"#1b75bc","opacity":1},"encoding":{"x":{"field":"x","type":"quantitative"},"y":{"field":"m","type":"quantitative"}}},
     {"data":{"name":"tune"},"transform":[{"filter":"datum.cell=='M'&&datum.h=='f2'"}],"mark":{"type":"point","shape":"square","filled":true,"fill":"#ffffff","stroke":"#ef5a23","strokeWidth":2.2,"size":60,"opacity":1},"encoding":{"x":{"field":"x","type":"quantitative"},"y":{"field":"m","type":"quantitative"}}},
     {"data":{"name":"spont"},"transform":[{"filter":{"field":"cell","equal":"M"}}],"mark":{"type":"text","fontSize":12,"color":"#c8c8c8","align":"center","baseline":"middle"},"encoding":{"x":{"datum":150},"y":{"datum":1.0},"text":{"field":"id"}}}
    ]},
   {"width":253,"height":207,
    "layer":[
     {"data":{"name":"spont"},"transform":[{"filter":{"field":"cell","equal":"P"}}],"mark":{"type":"rule","color":"#b8b8b8","strokeWidth":2,"strokeDash":[12,10]},"encoding":{"x":{"datum":0},"x2":{"datum":178},"y":{"field":"v","type":"quantitative"}}},
     {"data":{"name":"fit"},"transform":[{"filter":{"field":"cell","equal":"P"}}],"mark":{"type":"line","strokeWidth":2.5,"interpolate":"monotone"},
      "encoding":{"x":{"field":"x","type":"quantitative","scale":{"domain":[-10.5,180],"nice":false,"zero":false},"axis":{"values":[0,45,90,135,180],"labelExpr":"datum.value==0?'0°':datum.value==90?'90°':datum.value==180?'180°':''","labelOverlap":false,"labelFlush":false,"labelFontSize":29,"labelColor":"#444444","labelPadding":3,"tickSize":8,"tickWidth":1.5,"tickColor":"#444444","domainColor":"#444444","domainWidth":1.5,"grid":false,"title":"Spatial Phase (deg)","titleFontSize":35,"titleFontWeight":"normal","titleColor":"#444444","titlePadding":16}},
       "y":{"field":"y","type":"quantitative","scale":{"domain":[-0.7,28],"nice":false,"zero":false},"axis":{"values":[0,5,10,15,20,25],"labelExpr":"datum.value==0||datum.value==20?datum.label:''","labelOverlap":false,"tickSize":6,"tickWidth":1.5,"tickColor":"#444444","domainColor":"#444444","domainWidth":1.5,"labelFontSize":28,"labelColor":"#444444","labelPadding":3,"grid":false,"title":"imp/s","titleFontSize":30,"titleFontWeight":"normal","titleColor":"#444444","titlePadding":-2}},
       "color":{"field":"h","type":"nominal","scale":{"domain":["f0","f1","f2"],"range":["#2b2b2b","#1b75bc","#ef5a23"]},"legend":null},
       "strokeDash":{"field":"h","type":"nominal","scale":{"domain":["f0","f1","f2"],"range":[[1,0],[1,0],[9,7]]},"legend":null}}},
     {"data":{"name":"tune"},"transform":[{"filter":{"field":"cell","equal":"P"}}],"mark":{"type":"rule","strokeWidth":2.5},"encoding":{"x":{"field":"x","type":"quantitative"},"y":{"field":"lo","type":"quantitative"},"y2":{"field":"hi"},"color":{"field":"h","type":"nominal","legend":null}}},
     {"data":{"name":"tune"},"transform":[{"filter":"datum.cell=='P'&&datum.h=='f0'"}],"mark":{"type":"point","shape":"diamond","filled":true,"size":240,"color":"#2b2b2b","opacity":1},"encoding":{"x":{"field":"x","type":"quantitative"},"y":{"field":"m","type":"quantitative"}}},
     {"data":{"name":"tune"},"transform":[{"filter":"datum.cell=='P'&&datum.h=='f1'"}],"mark":{"type":"point","shape":"circle","filled":true,"size":90,"color":"#1b75bc","opacity":1},"encoding":{"x":{"field":"x","type":"quantitative"},"y":{"field":"m","type":"quantitative"}}},
     {"data":{"name":"tune"},"transform":[{"filter":"datum.cell=='P'&&datum.h=='f2'"}],"mark":{"type":"point","shape":"square","filled":true,"fill":"#ffffff","stroke":"#ef5a23","strokeWidth":2.2,"size":60,"opacity":1},"encoding":{"x":{"field":"x","type":"quantitative"},"y":{"field":"m","type":"quantitative"}}},
     {"data":{"name":"spont"},"transform":[{"filter":{"field":"cell","equal":"P"}}],"mark":{"type":"text","fontSize":12,"color":"#c8c8c8","align":"center","baseline":"middle"},"encoding":{"x":{"datum":150},"y":{"datum":1.8},"text":{"field":"id"}}},
     {"data":{"name":"fit"},"transform":[{"filter":"datum.cell=='P'&&datum.h=='f0'&&datum.x==180"}],"mark":{"type":"text","text":"f₀","align":"left","baseline":"middle","dx":10,"dy":-10,"fontSize":32,"color":"#2b2b2b"},"encoding":{"x":{"field":"x","type":"quantitative"},"y":{"field":"y","type":"quantitative"}}},
     {"data":{"name":"fit"},"transform":[{"filter":"datum.cell=='P'&&datum.h=='f1'&&datum.x==180"}],"mark":{"type":"text","text":"f₁","align":"left","baseline":"middle","dx":10,"dy":-12,"fontSize":32,"color":"#1b75bc"},"encoding":{"x":{"field":"x","type":"quantitative"},"y":{"field":"y","type":"quantitative"}}},
     {"data":{"name":"fit"},"transform":[{"filter":"datum.cell=='P'&&datum.h=='f2'&&datum.x==180"}],"mark":{"type":"text","text":"f₂","align":"left","baseline":"middle","dx":10,"dy":7,"fontSize":32,"color":"#ef5a23"},"encoding":{"x":{"field":"x","type":"quantitative"},"y":{"field":"y","type":"quantitative"}}}
    ]}
  ],"spacing":65}
 ],"spacing":42}
],"spacing":4},
{"width":1,"height":1,"data":{"values":[{"a":0}]},"mark":{"type":"point","opacity":0},"encoding":{}},
{"width":555,"height":206,
 "title":{"text":"B","anchor":"start","frame":"bounds","fontSize":32,"fontWeight":"bold","color":"#000000","offset":20,"dx":3},
 "layer":[
  {"data":{"name":"box"},"mark":{"type":"rule","strokeWidth":2.5,"xOffset":-39},
   "encoding":{"x":{"field":"grp","type":"nominal","scale":{"domain":["K-on/off","M cells","P cells"],"paddingInner":0,"paddingOuter":0.06},"axis":{"title":null,"labelAngle":0,"labelFontSize":34,"labelColor":"#444444","domain":false,"ticks":false,"labelPadding":5}},
    "y":{"field":"lo","type":"quantitative","scale":{"type":"log","domain":[0.1,10],"nice":false},"axis":{"orient":"left","values":[0.1,0.2,0.3,0.4,0.5,0.6,0.7,0.8,0.9,1,2,3,4,5,6,7,8,9,10],"labelExpr":"datum.value==10?'10¹':datum.value==1?'10⁰':datum.value==0.1?'10⁻¹':''","labelOverlap":false,"labelFontSize":28,"labelColor":"#444444","labelPadding":3,"tickColor":"#444444","tickWidth":1.5,"tickSize":{"condition":{"test":"datum.value==0.1||datum.value==1||datum.value==10","value":6},"value":4},"domainColor":"#444444","domainWidth":2,"grid":true,"gridColor":"#dedede","gridWidth":2.5,"gridOpacity":{"condition":{"test":"datum.value==0.1||datum.value==1||datum.value==10","value":1},"value":0},"title":"Non-Linearity Index","titleFontSize":35,"titleFontWeight":"normal","titleColor":"#444444","titlePadding":12}},
    "y2":{"field":"hi"},
    "color":{"field":"grp","type":"nominal","scale":{"domain":["K-on/off","M cells","P cells"],"range":["#e9582a","#333333","#888888"]},"legend":null}}},
  {"data":{"name":"box"},"mark":{"type":"bar","width":72,"strokeWidth":2.5,"xOffset":-39},
   "encoding":{"x":{"field":"grp","type":"nominal"},"y":{"field":"q1","type":"quantitative","axis":null},"y2":{"field":"q3"},
    "fill":{"field":"grp","type":"nominal","scale":{"domain":["K-on/off","M cells","P cells"],"range":["#fdd98c","#efefef","#d2d2d2"]},"legend":null},
    "stroke":{"field":"grp","type":"nominal","scale":{"domain":["K-on/off","M cells","P cells"],"range":["#e9582a","#333333","#888888"]},"legend":null}}},
  {"data":{"name":"box"},"mark":{"type":"tick","size":47,"thickness":3.5,"xOffset":-39},
   "encoding":{"x":{"field":"grp","type":"nominal"},"y":{"field":"med","type":"quantitative","axis":{"orient":"right","values":[0.1,0.2,0.3,0.4,0.5,0.6,0.7,0.8,0.9,1,2,3,4,5,6,7,8,9,10],"labels":false,"tickColor":"#444444","tickWidth":1.5,"tickSize":{"condition":{"test":"datum.value==0.1||datum.value==1||datum.value==10","value":-6},"value":-4},"domainColor":"#444444","domainWidth":2,"grid":false,"title":null}},
    "color":{"field":"grp","type":"nominal","legend":null}}},
  {"data":{"name":"pts"},"transform":[{"filter":{"field":"grp","equal":"K-on/off"}}],"mark":{"type":"point","shape":"M0,-1L0.235,-0.324L0.951,-0.309L0.38,0.124L0.588,0.809L0,0.4L-0.588,0.809L-0.38,0.124L-0.951,-0.309L-0.235,-0.324Z","filled":true,"fill":"#f9a11b","stroke":"#e9582a","strokeWidth":1.5,"size":300,"opacity":1},
   "encoding":{"x":{"field":"grp","type":"nominal"},"xOffset":{"field":"slot","type":"quantitative","scale":{"domain":[0,2],"range":[109,159]}},"y":{"field":"v","type":"quantitative","axis":null}}},
  {"data":{"name":"pts"},"transform":[{"filter":{"field":"grp","equal":"M cells"}}],"mark":{"type":"point","shape":"square","filled":true,"fill":"#ffffff","stroke":"#333333","strokeWidth":1.8,"size":50,"opacity":1},
   "encoding":{"x":{"field":"grp","type":"nominal"},"xOffset":{"field":"slot","type":"quantitative","scale":{"domain":[0,6],"range":[108,167]}},"y":{"field":"v","type":"quantitative","axis":null}}},
  {"data":{"name":"pts"},"transform":[{"filter":{"field":"grp","equal":"P cells"}}],"mark":{"type":"point","shape":"circle","filled":true,"fill":"#9a9a9a","stroke":"#888888","strokeWidth":1,"size":60,"opacity":1},
   "encoding":{"x":{"field":"grp","type":"nominal"},"xOffset":{"field":"slot","type":"quantitative","scale":{"domain":[0,7],"range":[108,166]}},"y":{"field":"v","type":"quantitative","axis":null}}}
 ],
 "resolve":{"axis":{"y":"independent"},"scale":{"xOffset":"independent"}}}
],
"columns":2,
"align":"none",
"spacing":{"row":10,"column":0}
}
